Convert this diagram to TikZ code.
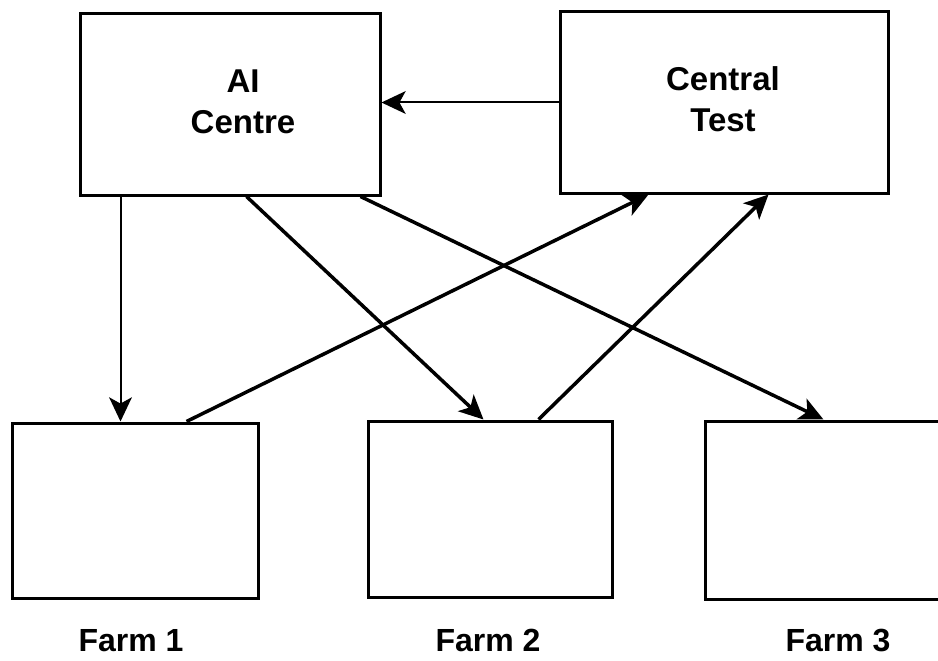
\documentclass[tikz,border=0pt]{standalone}
\usepackage{fontspec}
\setmainfont{Liberation Sans}
\usetikzlibrary{arrows.meta}
\tikzset{
  box/.style={draw,line width=3pt,inner sep=0pt},
  txt/.style={inner sep=0pt,align=center,font=\fontsize{33}{41}\selectfont\bfseries},
  lbl/.style={inner sep=0pt,anchor=base,text depth=0pt,font=\fontsize{32}{40}\selectfont\bfseries},
  thinarrow/.style={line width=2pt,arrows={-Stealth[length=0.85cm,width=0.8cm,inset=0.22cm]}},
  thickarrow/.style={line width=3.5pt,arrows={-Stealth[length=0.85cm,width=0.8cm,inset=0.22cm]}}}
\begin{document}
\begin{tikzpicture}[x=1pt,y=-1pt]
\useasboundingbox (0,0) rectangle (938,661);
\begin{scope}
\clip (0,0) rectangle (938,661);
\node[box,minimum width=300pt,minimum height=181pt] (ai) at (230,104.5) {};
\node[box,minimum width=328pt,minimum height=181pt] (ct) at (724,102.5) {};
\node[box,minimum width=246pt,minimum height=175pt] (f1) at (135,510.5) {};
\node[box,minimum width=244pt,minimum height=176pt] (f2) at (490,509) {};
\node[box,minimum width=240pt,minimum height=178pt] (f3) at (825,510) {};
\end{scope}
\node[txt] (ait) at (243,102) {AI\\Centre};
\node[txt] (ctt) at (723,99) {Central\\Test};
\node[lbl] (l1) at (131,651) {Farm 1};
\node[lbl] (l2) at (488,651) {Farm 2};
\node[lbl] (l3) at (838,651) {Farm 3};
\draw[thinarrow] (ct.west) -- (ct.west -| ai.east);
\draw[thinarrow] ([xshift=42pt]ai.south west) -- ([xshift=110pt]f1.north west);
\draw[thickarrow] ([xshift=168pt]ai.south west) -- ([xshift=117pt]f2.north west);
\draw[thickarrow] ([xshift=282pt]ai.south west) -- ([xshift=120pt]f3.north west);
\draw[thickarrow] ([xshift=176pt]f1.north west) -- ([xshift=90pt]ct.south west);
\draw[thickarrow] ([xshift=172pt]f2.north west) -- ([xshift=210pt]ct.south west);
\end{tikzpicture}
\end{document}
